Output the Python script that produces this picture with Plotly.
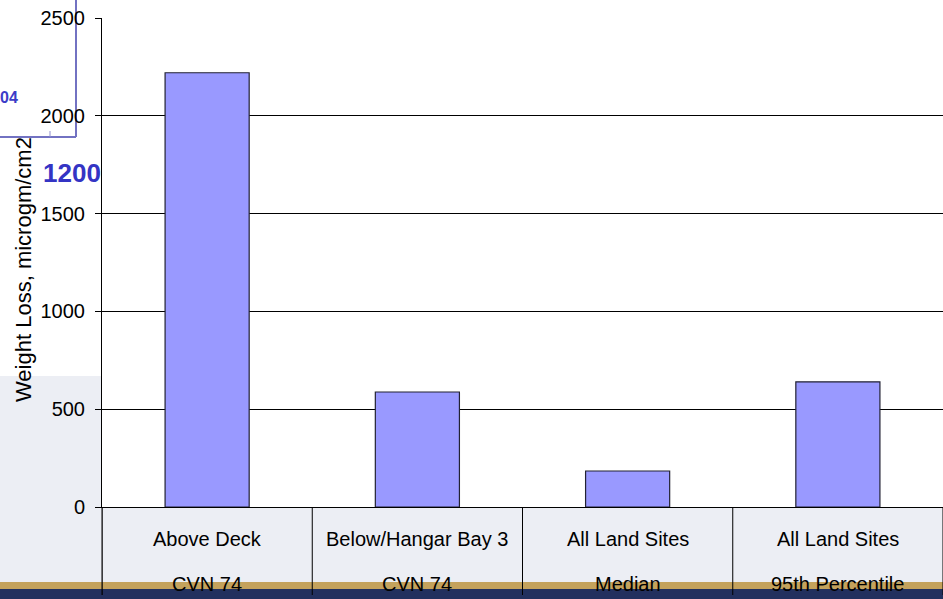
import plotly.graph_objects as go

categories_top = ["Above Deck", "Below/Hangar Bay 3", "All Land Sites", "All Land Sites"]
categories_bottom = ["CVN 74", "CVN 74", "Median", "95th Percentile"]
values = [2220, 588, 184, 640]
y_ticks = [0, 500, 1000, 1500, 2000, 2500]
y_title = "Weight Loss, microgm/cm2"

W, H = 943, 599
L, R, T, B = 102, 0, 18, 92
PW, PH = W - L - R, H - T - B
FONT = "Liberation Sans, Arial"

def px(x):
    return (x - L) / PW

def py(y):
    return (H - B - y) / PH

xs = list(range(len(values)))
fig = go.Figure()
fig.add_trace(go.Bar(
    x=xs, y=values, width=0.4,
    marker=dict(color="#9999FF", line=dict(color="#222233", width=1.2)),
    showlegend=False, hoverinfo="skip",
))

shapes = []
# slide background decorations
shapes.append(dict(type="rect", xref="paper", yref="paper", x0=px(-2), x1=px(W + 2), y0=py(376), y1=py(582),
                   fillcolor="#eceef4", line=dict(width=0), layer="below"))
shapes.append(dict(type="rect", xref="paper", yref="paper", x0=px(-2), x1=px(W + 2), y0=py(582), y1=py(589),
                   fillcolor="#c4a25c", line=dict(width=0), layer="below"))
shapes.append(dict(type="rect", xref="paper", yref="paper", x0=px(-2), x1=px(W + 2), y0=py(589), y1=py(602),
                   fillcolor="#22305e", line=dict(width=0), layer="below"))
shapes.append(dict(type="line", xref="paper", yref="paper", x0=px(76), x1=px(76), y0=py(-2), y1=py(137),
                   line=dict(color="#7272c2", width=2), layer="below"))
shapes.append(dict(type="line", xref="paper", yref="paper", x0=px(-2), x1=px(76), y0=py(137), y1=py(137),
                   line=dict(color="#7272c2", width=2), layer="below"))
shapes.append(dict(type="line", xref="paper", yref="paper", x0=px(50), x1=px(50), y0=py(131), y1=py(137),
                   line=dict(color="#9090d0", width=1), layer="below"))
# white plot area
shapes.append(dict(type="rect", xref="paper", yref="paper", x0=0, x1=1, y0=0, y1=1,
                   fillcolor="white", line=dict(width=0), layer="below"))
# y axis line extension below the plot
shapes.append(dict(type="line", xref="paper", yref="paper", x0=0, x1=0, y0=0, y1=py(595),
                   line=dict(color="black", width=1)))
# category separators
for k in range(len(values) + 1):
    xv = k - 0.5
    shapes.append(dict(type="line", xref="x", yref="paper", x0=xv, x1=xv, y0=0, y1=py(595),
                       line=dict(color="black", width=1)))

annotations = []
for i, (a, b) in enumerate(zip(categories_top, categories_bottom)):
    annotations.append(dict(x=i, y=py(539), xref="x", yref="paper", text=a, showarrow=False,
                            font=dict(family=FONT, size=20, color="black"),
                            xanchor="center", yanchor="middle"))
    annotations.append(dict(x=i, y=py(584), xref="x", yref="paper", text=b, showarrow=False,
                            font=dict(family=FONT, size=20, color="black"),
                            xanchor="center", yanchor="middle"))
annotations.append(dict(x=px(23), y=py(270), xref="paper", yref="paper", text=y_title, showarrow=False,
                        textangle=-90, font=dict(family=FONT, size=22, color="black"),
                        xanchor="center", yanchor="middle"))
annotations.append(dict(x=px(-2), y=py(98), xref="paper", yref="paper", text="<b>04</b>", showarrow=False,
                        font=dict(family=FONT, size=16, color="#3c3cc8"),
                        xanchor="left", yanchor="middle"))
annotations.append(dict(x=px(41), y=py(173), xref="paper", yref="paper", text="<b>1200</b>", showarrow=False,
                        font=dict(family=FONT, size=26, color="#3434c4"),
                        xanchor="left", yanchor="middle"))

fig.update_layout(
    width=W, height=H,
    margin=dict(l=L, r=R, t=T, b=B, pad=0),
    paper_bgcolor="white", plot_bgcolor="rgba(0,0,0,0)",
    font=dict(family=FONT, size=20, color="black"),
    shapes=shapes, annotations=annotations,
    xaxis=dict(range=[-0.5, len(values) - 0.5], showticklabels=False, showgrid=False, zeroline=False,
               showline=True, linecolor="black", linewidth=1, ticks=""),
    yaxis=dict(range=[0, 2500], tickvals=y_ticks, showgrid=True, gridcolor="black", gridwidth=1,
               zeroline=False, showline=True, linecolor="black", linewidth=1,
               ticks="outside", ticklen=6, tickcolor="black", ticklabelstandoff=6,
               tickfont=dict(family=FONT, size=20, color="black")),
)

fig.write_html("out.html")
